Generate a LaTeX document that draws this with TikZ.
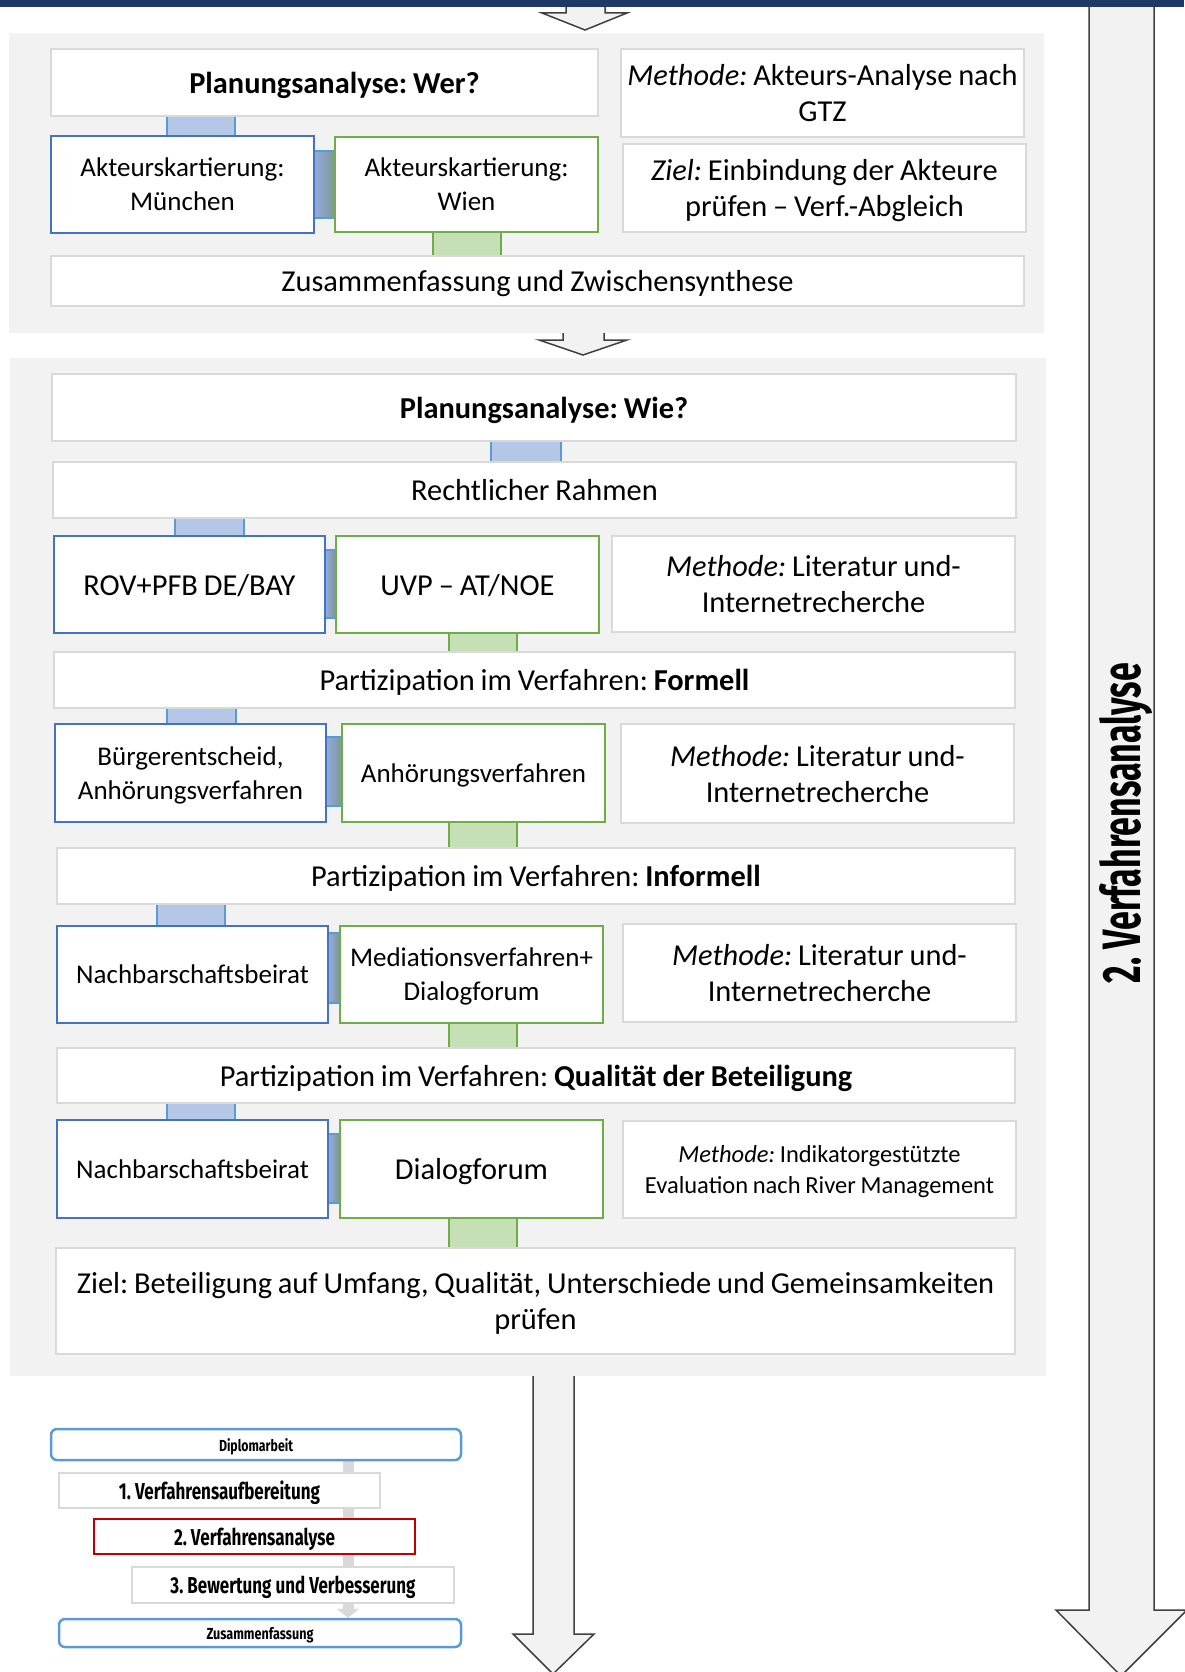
\documentclass[tikz,border=0pt]{standalone}
\usepackage{fontspec}
\usepackage{graphicx}
\setmainfont{Carlito}[WordSpace=0.85]
\newfontfamily\narrowfont{Fira Sans}
\usetikzlibrary{arrows.meta}
\frenchspacing

\definecolor{panelgray}{HTML}{F2F2F2}
\definecolor{boxgray}{HTML}{D9D9D9}
\definecolor{bblue}{HTML}{4472C4}
\definecolor{bgreen}{HTML}{70AD47}
\definecolor{cblue}{HTML}{B4C7E7}
\definecolor{lblue}{HTML}{5B9BD5}
\definecolor{cgreen}{HTML}{C5E0B4}
\definecolor{navy}{HTML}{203864}
\definecolor{arrowline}{HTML}{404040}
\definecolor{hleft}{HTML}{8FAADC}
\definecolor{hright}{HTML}{7F9A94}
\definecolor{dred}{HTML}{C00000}

\pgfdeclarelayer{bg}
\pgfdeclarelayer{mid}
\pgfsetlayers{bg,mid,main}

% text squeezed horizontally to a given width, keeping its height
\newcommand\fitw[3]{\resizebox{#1pt}{\height}{\fontsize{#2}{#2}\selectfont #3}}

% box given by its corners: name, style, x1, y1, x2, y2, text
\newcommand\bx[7]{\node[#2, minimum width={#5-#3}, minimum height={#6-#4}] (#1) at ({(#3+#5)/2},{(#4+#6)/2}) {#7};}

% vertical link bar between two boxes: fill, edge colour, x1, x2, upper, lower
\newcommand\vcon[6]{%
  \begin{pgfonlayer}{mid}
    \fill[#1] (#3,0 |- #5.south) rectangle (#4,0 |- #6.north);
    \draw[#2, line width=2pt] (#3,0 |- #5.south) -- (#3,0 |- #6.north)
                              (#4,0 |- #5.south) -- (#4,0 |- #6.north);
  \end{pgfonlayer}}

% horizontal link bar between two boxes: left, right, y top, y bottom
\newcommand\hcon[4]{%
  \begin{pgfonlayer}{mid}
    \shade[left color=hleft, right color=hright] (#1.east |- 0,#3) rectangle (#2.west |- 0,#4);
    \draw[lblue, line width=2pt] (#1.east |- 0,#3) -- (#2.west |- 0,#3)
                                 (#1.east |- 0,#4) -- (#2.west |- 0,#4);
  \end{pgfonlayer}}

\tikzset{
  base/.style={rectangle, inner sep=0pt, align=center, line width=2.5pt, fill=white,
               text depth=0pt, font=\fontsize{30.4}{36}\selectfont},
  gbox/.style={base, draw=boxgray},
  bbox/.style={base, draw=bblue},
  grbox/.style={base, draw=bgreen},
  fsmall/.style={font=\fontsize{27}{34}\selectfont},
  fmini/.style={font=\fontsize{24.5}{31}\selectfont},
  mblue/.style={base, draw=lblue, rounded corners=6pt, line width=2.5pt},
  mgray/.style={base, draw=boxgray, line width=2.5pt},
  mred/.style={base, draw=dred, line width=2.5pt},
  blockarrow/.style={fill=panelgray, draw=arrowline, line width=1.5pt, line join=miter},
}

\begin{document}
\begin{tikzpicture}[x=1pt, y=-1pt]
\useasboundingbox (0,0) rectangle (1184,1672);

% grey panels
\begin{pgfonlayer}{bg}
  \fill[panelgray] (9,33) rectangle (1044,333);
  \fill[panelgray] (10,358) rectangle (1046,1376);
\end{pgfonlayer}

% block arrows
\filldraw[blockarrow] (1089,7) -- (1089,1610) -- (1056,1610) -- (1121,1676) -- (1187,1610) -- (1154,1610) -- (1154,7);
\filldraw[blockarrow] (566,0) -- (566,13) -- (542,13) -- (585,30) -- (627,13) -- (605,13) -- (605,0);
\filldraw[blockarrow] (563,333) -- (563,340) -- (539,340) -- (583,355) -- (627,340) -- (604,340) -- (604,333);
\filldraw[blockarrow] (533,1376) -- (533,1634) -- (513,1634) -- (553,1674) -- (594,1634) -- (574,1634) -- (574,1376);
\fill[navy] (0,0) rectangle (1184,7);

\node[rotate=90] (vlabel) at (1126,823) {\narrowfont\bfseries\fitw{320}{54}{2. Verfahrensanalyse}};

% first block: Wer?
\bx{wer}{gbox}{51}{49}{598}{116}{\hspace*{20pt}\textbf{Planungsanalyse: Wer?}}
\bx{meth1}{gbox}{621}{49}{1024}{137}{\textit{Methode:} Akteurs-Analyse nach\\GTZ}
\bx{ziel1}{gbox}{623}{144}{1026}{232}{\textit{Ziel:} Einbindung der Akteure\\prüfen – Verf.-Abgleich}
\bx{muc}{bbox, fsmall}{51}{136}{314}{233}{Akteurskartierung:\\München}
\bx{wien}{grbox, fsmall}{335}{137}{598}{232}{Akteurskartierung:\\Wien}
\bx{zsyn}{gbox}{51}{256}{1024}{306}{Zusammenfassung und Zwischensynthese}

\vcon{cblue}{lblue}{167}{235}{wer}{muc}
\hcon{muc}{wien}{151}{218}
\vcon{cgreen}{bgreen}{433}{501}{wien}{zsyn}

% second block: Wie?
\bx{wie}{gbox}{52}{374}{1016}{441}{\hspace*{20pt}\textbf{Planungsanalyse: Wie?}}
\bx{recht}{gbox}{53}{462}{1016}{518}{Rechtlicher Rahmen}
\bx{rov}{bbox}{54}{536}{325}{633}{ROV+PFB DE/BAY}
\bx{uvp}{grbox}{336}{536}{599}{633}{UVP – AT/NOE}
\bx{meth2}{gbox}{612}{536}{1015}{632}{\textit{Methode:} Literatur und-\\Internetrecherche}
\bx{formell}{gbox}{54}{652}{1015}{708}{Partizipation im Verfahren: \textbf{Formell}}
\bx{buerger}{bbox, fsmall}{55}{724}{326}{822}{Bürgerentscheid,\\Anhörungsverfahren}
\bx{anh}{grbox, fsmall}{342}{724}{605}{822}{Anhörungsverfahren}
\bx{meth3}{gbox}{621}{724}{1014}{823}{\textit{Methode:} Literatur und-\\Internetrecherche}
\bx{informell}{gbox}{57}{848}{1015}{904}{Partizipation im Verfahren: \textbf{Informell}}
\bx{nachbar1}{bbox, fsmall}{57}{926}{328}{1023}{Nachbarschaftsbeirat}
\bx{media}{grbox, fsmall}{340}{926}{603}{1023}{Mediationsverfahren+\\Dialogforum}
\bx{meth4}{gbox}{623}{924}{1016}{1022}{\textit{Methode:} Literatur und-\\Internetrecherche}
\bx{quali}{gbox}{57}{1048}{1015}{1103}{Partizipation im Verfahren: \textbf{Qualität der Beteiligung}}
\bx{nachbar2}{bbox, fsmall}{57}{1120}{328}{1218}{Nachbarschaftsbeirat}
\bx{dialog}{grbox}{340}{1120}{603}{1218}{Dialogforum}
\bx{meth5}{gbox, fmini}{623}{1121}{1016}{1218}{\textit{Methode:} Indikatorgestützte\\Evaluation nach River Management}
\bx{ziel2}{gbox}{56}{1248}{1015}{1354}{Ziel: Beteiligung auf Umfang, Qualität, Unterschiede und Gemeinsamkeiten\\prüfen}

\vcon{cblue}{lblue}{491}{561}{wie}{recht}
\vcon{cblue}{lblue}{175}{244}{recht}{rov}
\hcon{rov}{uvp}{550}{618}
\vcon{cgreen}{bgreen}{449}{517}{uvp}{formell}
\vcon{cblue}{lblue}{167}{236}{formell}{buerger}
\hcon{buerger}{anh}{737}{806}
\vcon{cgreen}{bgreen}{449}{517}{anh}{informell}
\vcon{cblue}{lblue}{157}{225}{informell}{nachbar1}
\hcon{nachbar1}{media}{933}{1003}
\vcon{cgreen}{bgreen}{449}{517}{media}{quali}
\vcon{cblue}{lblue}{167}{235}{quali}{nachbar2}
\hcon{nachbar2}{dialog}{1134}{1203}
\vcon{cgreen}{bgreen}{449}{517}{dialog}{ziel2}

% overview of the thesis parts
\bx{dipl}{mblue}{51}{1429}{461}{1460}{\narrowfont\bfseries\fitw{74}{16}{Diplomarbeit}}
\bx{step1}{mgray}{59}{1473}{380}{1508}{\narrowfont\bfseries\fitw{201}{23}{1. Verfahrensaufbereitung}}
\bx{step2}{mred}{94}{1519}{415}{1554}{\narrowfont\bfseries\fitw{161}{23}{2. Verfahrensanalyse}}
\bx{step3}{mgray}{132}{1567}{454}{1603}{\narrowfont\bfseries\fitw{245}{23}{3. Bewertung und Verbesserung}}
\bx{zusf}{mblue}{59}{1619}{461}{1647}{\narrowfont\bfseries\fitw{107}{16}{Zusammenfassung}}
\begin{pgfonlayer}{mid}
  \draw[boxgray, line width=11pt, -{Triangle[width=22pt,length=9pt]}] (348,0 |- dipl.south) -- (348,0 |- zusf.north);
\end{pgfonlayer}

\end{tikzpicture}
\end{document}
